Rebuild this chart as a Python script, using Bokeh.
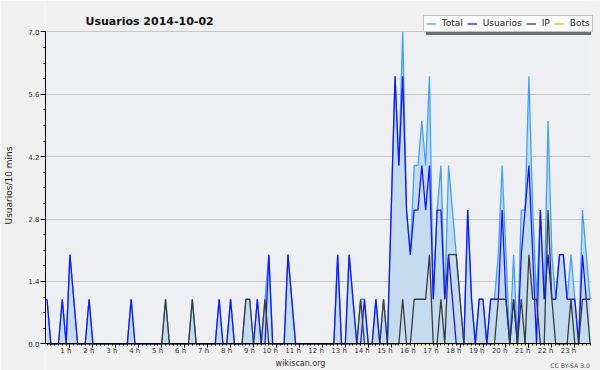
from bokeh.plotting import figure
from bokeh.models import (Range1d, FixedTicker, Legend, LegendItem, Label, PrintfTickFormatter,
                          LinearAxis, BoxAnnotation)
from bokeh.embed import file_html
from bokeh.resources import INLINE

# ---- data: one value per 10-minute slot (slot 0 = 00:00) ----
slots = list(range(143))

usuarios = [
    1, 0, 0, 0, 1, 0, 2, 1, 0, 0, 0, 1,
    0, 0, 0, 0, 0, 0, 0, 0, 0, 0, 1, 0,
    0, 0, 0, 0, 0, 0, 0, 0, 0, 0, 0, 0,
    0, 0, 0, 0, 0, 0, 0, 0, 0, 1, 0, 0,
    1, 0, 0, 0, 0, 0, 0, 1, 0, 0, 2, 0,
    0, 0, 0, 2, 1, 0, 0, 0, 0, 0, 0, 0,
    0, 0, 0, 0, 2, 0, 0, 2, 1, 0, 0, 1,
    0, 0, 1, 0, 0, 0, 3, 6, 4, 6, 3, 2,
    3, 3, 4, 3, 4, 1, 3, 3, 1, 2, 1, 0,
    0, 0, 3, 1, 0, 1, 1, 0, 1, 1, 1, 3,
    1, 0, 1, 0, 2, 3, 4, 2, 0, 3, 1, 2,
    1, 1, 2, 2, 1, 1, 1, 0, 2, 1, 1,
]

ip = [
    0, 0, 0, 0, 0, 0, 0, 0, 0, 0, 0, 0,
    0, 0, 0, 0, 0, 0, 0, 0, 0, 0, 0, 0,
    0, 0, 0, 0, 0, 0, 0, 1, 0, 0, 0, 0,
    0, 0, 1, 0, 0, 0, 0, 0, 0, 0, 0, 0,
    0, 0, 0, 0, 1, 1, 0, 0, 0, 1, 0, 0,
    0, 0, 0, 0, 0, 0, 0, 0, 0, 0, 0, 0,
    0, 0, 0, 0, 0, 0, 0, 0, 0, 0, 1, 0,
    0, 0, 0, 0, 1, 0, 0, 0, 0, 1, 0, 0,
    1, 1, 1, 1, 2, 0, 0, 1, 0, 2, 2, 2,
    1, 0, 0, 0, 0, 0, 0, 0, 0, 0, 1, 1,
    1, 0, 1, 0, 1, 0, 2, 1, 1, 0, 0, 3,
    1, 0, 0, 0, 0, 1, 0, 0, 1, 1, 0,
]

total = [
    1, 0, 0, 0, 1, 0, 2, 1, 0, 0, 0, 1,
    0, 0, 0, 0, 0, 0, 0, 0, 0, 0, 1, 0,
    0, 0, 0, 0, 0, 0, 0, 1, 0, 0, 0, 0,
    0, 0, 1, 0, 0, 0, 0, 0, 0, 1, 0, 0,
    1, 0, 0, 0, 1, 1, 0, 1, 0, 1, 2, 0,
    0, 0, 0, 2, 1, 0, 0, 0, 0, 0, 0, 0,
    0, 0, 0, 0, 2, 0, 0, 2, 1, 0, 1, 1,
    0, 0, 1, 0, 1, 0, 3, 6, 4, 7, 3, 2,
    4, 4, 5, 4, 6, 1, 3, 4, 1, 4, 3, 2,
    1, 0, 3, 1, 0, 1, 1, 0, 1, 1, 2, 4,
    2, 0, 2, 0, 3, 3, 6, 3, 1, 3, 1, 5,
    2, 1, 2, 2, 1, 2, 1, 0, 3, 2, 1,
]

bots = [
    0, 0, 0, 0, 0, 0, 0, 0, 0, 0, 0, 0,
    0, 0, 0, 0, 0, 0, 0, 0, 0, 0, 0, 0,
    0, 0, 0, 0, 0, 0, 0, 0, 0, 0, 0, 0,
    0, 0, 0, 0, 0, 0, 0, 0, 0, 0, 0, 0,
    0, 0, 0, 0, 0, 0, 0, 0, 0, 0, 0, 0,
    0, 0, 0, 0, 0, 0, 0, 0, 0, 0, 0, 0,
    0, 0, 0, 0, 0, 0, 0, 0, 0, 0, 0, 0,
    0, 0, 0, 0, 0, 0, 0, 0, 0, 0, 0, 0,
    0, 0, 0, 0, 0, 0, 0, 0, 0, 0, 0, 0,
    0, 0, 0, 0, 0, 0, 0, 0, 0, 0, 0, 0,
    0, 0, 0, 0, 0, 0, 0, 0, 0, 0, 0, 0,
    0, 0, 0, 0, 0, 0, 0, 0, 0, 0, 0,
]

hours = list(range(1, 24))
hour_labels = ["1 h", "2 h", "3 h", "4 h", "5 h", "6 h", "7 h", "8 h", "9 h", "10 h",
               "11 h", "12 h", "13 h", "14 h", "15 h", "16 h", "17 h", "18 h", "19 h",
               "20 h", "21 h", "22 h", "23 h"]
y_ticks = [0.0, 1.4, 2.8, 4.2, 5.6, 7.0]

FONT = "DejaVu Sans"
BORDER_BG = "#f0f0f0"
PLOT_BG = "#eeeff2"

# ---- geometry (pixels) ----
W, H = 600, 370
LEFT = 45                      # frame left edge (y axis)
PX_X = 543.1 / 142             # pixels per 10-min slot
PX_Y = 312.0 / 7               # pixels per user
x_start = -1.5 / PX_X
x_end = 142 + (W - 589.6) / PX_X
y_start = -(H - 343.3) / PX_Y
y_end = 7 + 31.3 / PX_Y

p = figure(width=W, height=H, output_backend="svg", toolbar_location=None,
           x_range=Range1d(x_start, x_end), y_range=Range1d(y_start, y_end),
           min_border_left=LEFT, min_border_right=0, min_border_top=0, min_border_bottom=0)
p.background_fill_color = BORDER_BG
p.border_fill_color = BORDER_BG
p.outline_line_color = None

# plot area background and cover of the grid beyond the data area
p.add_layout(BoxAnnotation(left=x_start, right=142, bottom=0, top=7, level="image",
                           fill_color=PLOT_BG, fill_alpha=1, line_color=None))
p.add_layout(BoxAnnotation(left=142.15, level="underlay",
                           fill_color=BORDER_BG, fill_alpha=1, line_color=None))

# series
p.varea(x=slots, y1=0, y2=total, fill_color="#c5dcf0")
r_bots = p.line(slots, bots, line_color="#ffa500", line_width=1.3)
r_total = p.line(slots, total, line_color="#40a0fa", line_width=1.3)
r_users = p.line(slots, usuarios, line_color="#1515ff", line_width=1.3)
r_ip = p.line(slots, ip, line_color="#3a3a3a", line_width=1.3)
r_dummy = p.line([0, 1], [0, 0], line_alpha=0)

# x axis: labels right-aligned against the hour tick (like the original)
lab_w = {1: 11.12, 2: 15.57}
label_pos = [round(6 * h + (1.5 - lab_w[len(str(h))] / 2) / PX_X, 3) for h in hours]
xa = p.xaxis[0]
xa.fixed_location = 0
xa.bounds = (x_start, 142)
xa.ticker = FixedTicker(ticks=label_pos, minor_ticks=slots)
xa.major_label_overrides = {pos: lab for pos, lab in zip(label_pos, hour_labels)}
xa.axis_line_color = "black"
xa.major_tick_line_color = None
xa.minor_tick_line_color = "black"
xa.major_tick_in = 0
xa.major_tick_out = 2
xa.minor_tick_in = 0
xa.minor_tick_out = 2
xa.major_label_standoff = 1
xa.major_label_text_font = FONT
xa.major_label_text_font_size = "7px"
xa.major_label_text_color = "#333333"

# longer hour ticks (no labels)
xh = LinearAxis(fixed_location=0, bounds=(x_start, 142),
                ticker=FixedTicker(ticks=[], minor_ticks=[6 * h for h in hours]),
                axis_line_color=None, minor_tick_line_color="black",
                minor_tick_in=0, minor_tick_out=4)
p.add_layout(xh, "below")

ya = p.yaxis[0]
ya.bounds = (0, 7)
ya.ticker = FixedTicker(ticks=y_ticks, minor_ticks=[0.35 * k for k in range(21)])
ya.formatter = PrintfTickFormatter(format="%.1f")
ya.axis_line_color = "black"
ya.major_tick_in = 0
ya.major_tick_out = 5
ya.minor_tick_in = 0
ya.minor_tick_out = 2
ya.major_label_standoff = 1
ya.major_label_text_font = FONT
ya.major_label_text_font_size = "7px"
ya.major_label_text_color = "#333333"

# y-axis title on its own bare axis, centred a little below the middle (as in the original)
yt = LinearAxis(bounds=(0, 6.45), ticker=FixedTicker(ticks=[]),
                axis_line_color=None, major_tick_line_color=None, minor_tick_line_color=None,
                axis_label="Usuarios/10 mins", axis_label_text_font=FONT,
                axis_label_text_font_size="9px", axis_label_text_font_style="normal",
                axis_label_text_color="#222222", axis_label_standoff=12)
p.add_layout(yt, "left")

p.xgrid.visible = False
p.ygrid.ticker = FixedTicker(ticks=y_ticks[1:])
p.ygrid.grid_line_color = "#c8c8c8"
p.ygrid.grid_line_width = 1

# title
p.add_layout(Label(x=40, y=H - 21, x_units="screen", y_units="screen",
                   text="Usuarios  2014-10-02", text_font=FONT, text_font_style="bold",
                   text_font_size="11px", text_color="#111111", text_baseline="alphabetic"))

# legend shadow + legend (bottom-left corner, relative to the frame)
leg_x, leg_y = 422.7 - LEFT, H - 31.7
shadow = Legend(items=[LegendItem(label=" ", renderers=[r_dummy])],
                location=(leg_x + 3, leg_y - 3), orientation="horizontal",
                padding=2, spacing=4, glyph_width=10, glyph_height=11,
                label_standoff=6, label_width=149, label_height=11,
                label_text_font_size="9px", margin=0,
                background_fill_color="#6e6e6e", background_fill_alpha=1.0,
                border_line_color=None)
legend = Legend(items=[LegendItem(label="Total", renderers=[r_total]),
                       LegendItem(label="Usuarios", renderers=[r_users]),
                       LegendItem(label="IP", renderers=[r_ip]),
                       LegendItem(label="Bots", renderers=[r_bots])],
                location=(leg_x, leg_y), orientation="horizontal",
                padding=2, spacing=4, glyph_width=10, glyph_height=11,
                label_standoff=6, label_width=0, label_height=11,
                label_text_font=FONT, label_text_font_size="9px",
                label_text_color="#222222", margin=0,
                background_fill_color="white", background_fill_alpha=1.0,
                border_line_color="#888888", border_line_width=1)
p.add_layout(shadow)
p.add_layout(legend)

# footer texts
p.add_layout(Label(x=300 - LEFT, y=H - 363.3, x_units="screen", y_units="screen",
                   text="wikiscan.org", text_font=FONT, text_font_size="8px",
                   text_color="#333333", text_align="center", text_baseline="alphabetic"))
p.add_layout(Label(x=589.5 - LEFT, y=H - 364.5, x_units="screen", y_units="screen",
                   text="CC BY-SA 3.0", text_font=FONT, text_font_size="6.2px",
                   text_color="#555555", text_align="right", text_baseline="alphabetic"))

open("out.html", "w").write(file_html(p, INLINE))
